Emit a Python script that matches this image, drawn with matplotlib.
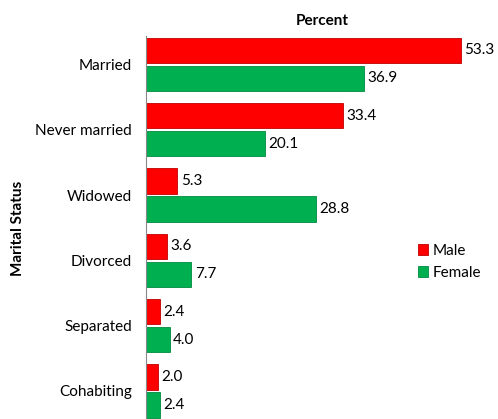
import numpy as np
import matplotlib.pyplot as plt

categories = ["Married", "Never married", "Widowed", "Divorced", "Separated", "Cohabiting"]
male = [53.3, 33.4, 5.3, 3.6, 2.4, 2.0]
female = [36.9, 20.1, 28.8, 7.7, 4.0, 2.4]


def main():
    plt.rcParams['font.family'] = ['Lato', 'DejaVu Sans']
    fig = plt.figure(figsize=(4.98, 4.19), dpi=100)
    ax = fig.add_axes([146 / 498, 0.0, 1 - 146 / 498, 1 - 36 / 419])

    y = np.arange(len(categories))
    h = 0.39
    off = 0.215
    red = "#FF0000"
    green = "#00B050"

    b1 = ax.barh(y - off, male, height=h, color=red, edgecolor="#C00000",
                 linewidth=0.6, label="Male")
    b2 = ax.barh(y + off, female, height=h, color=green, edgecolor="#008A3E",
                 linewidth=0.6, label="Female")

    for bars, vals in ((b1, male), (b2, female)):
        for b, v in zip(bars, vals):
            ax.text(v + 0.6, b.get_y() + b.get_height() / 2, f"{v:.1f}",
                    va="center", ha="left", fontsize=11)

    ax.set_xlim(0, 59.6)
    ax.set_ylim(5.43, -0.435)
    ax.set_yticks(y)
    ax.set_yticklabels(categories, fontsize=11)
    ax.tick_params(axis="y", length=0, pad=10)
    ax.set_xticks([])
    for s in ("top", "right", "bottom"):
        ax.spines[s].set_visible(False)
    ax.spines["left"].set_color("#888888")
    ax.spines["left"].set_linewidth(0.8)

    ax.set_title("Percent", fontsize=11, fontweight="bold", pad=8)
    fig.text(18 / 498, 1 - 228 / 419, "Marital Status", rotation=90,
             ha="center", va="center", fontsize=11, fontweight="bold")

    fig.legend(handles=[b1, b2], labels=["Male", "Female"],
               loc="upper left", bbox_to_anchor=(404 / 498, 1 - 230 / 419),
               frameon=False, fontsize=11, handlelength=0.7,
               handleheight=0.7, handletextpad=0.3, labelspacing=0.55)

    fig.savefig("out.png", dpi=100)


if __name__ == "__main__":
    main()
